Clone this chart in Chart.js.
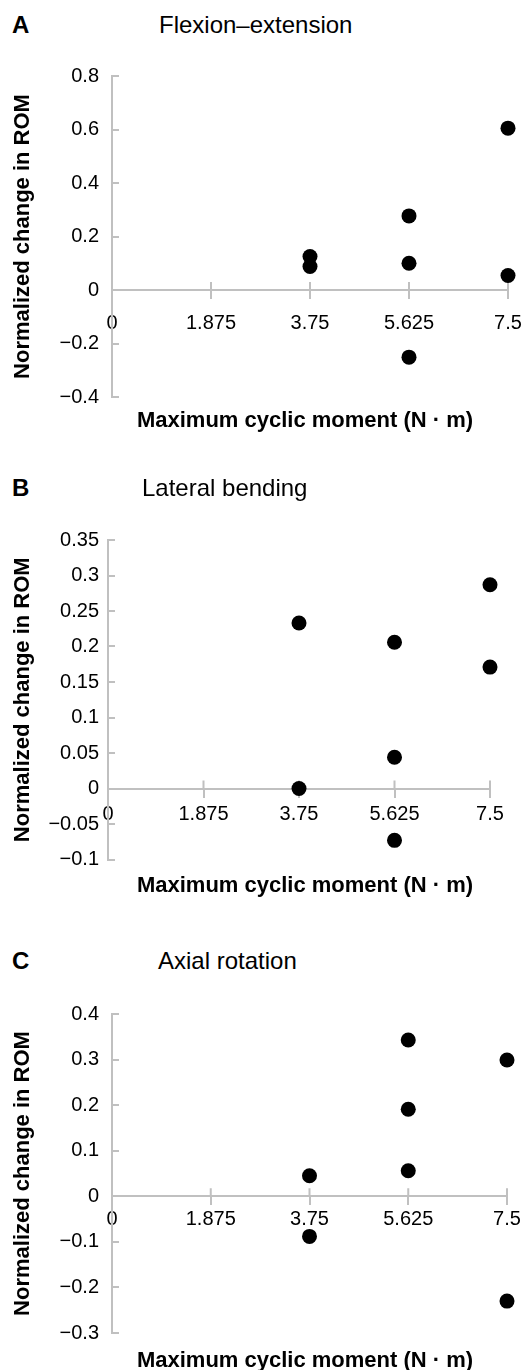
<!DOCTYPE html>
<html>
<head>
<meta charset="utf-8">
<script src="https://cdn.jsdelivr.net/npm/chart.js@4"></script>
<style>
  body { margin: 0; background: #fff; }
  #page { position: relative; width: 525px; height: 1370px; overflow: hidden; font-family: "Liberation Sans", Arial, sans-serif; color: #000; }
  .box { position: absolute; left: 0; width: 525px; }
  .letter { position: absolute; font-weight: bold; font-size: 24px; line-height: 28.8px; }
  .title { position: absolute; font-size: 24px; line-height: 28.8px; white-space: nowrap; }
  .xtitle { position: absolute; font-weight: bold; font-size: 22px; line-height: 26.4px; white-space: nowrap; transform: translateX(-50%); }
</style>
</head>
<body>
<div id="page">
  <div class="letter" style="left:12px; top:11px;">A</div>
  <div class="title" style="left:159px; top:11px;">Flexion–extension</div>
  <div class="box" style="top:0; height:420px;"><canvas id="chartA"></canvas></div>
  <div class="xtitle" style="left:305px; top:407px;">Maximum cyclic moment (N · m)</div>

  <div class="letter" style="left:12px; top:474px;">B</div>
  <div class="title" style="left:142px; top:474px;">Lateral bending</div>
  <div class="box" style="top:440px; height:440px;"><canvas id="chartB"></canvas></div>
  <div class="xtitle" style="left:305px; top:872px;">Maximum cyclic moment (N · m)</div>

  <div class="letter" style="left:12px; top:947px;">C</div>
  <div class="title" style="left:158px; top:947px;">Axial rotation</div>
  <div class="box" style="top:930px; height:420px;"><canvas id="chartC"></canvas></div>
  <div class="xtitle" style="left:305px; top:1347px;">Maximum cyclic moment (N · m)</div>
</div>
<script>
// x tick labels (maximum cyclic moment, N·m)
const xTicks = ["0", "1.875", "3.75", "5.625", "7.5"];

// A: flexion-extension
const xA = [3.75, 3.75, 5.625, 5.625, 5.625, 7.5, 7.5];
const yA = [0.125, 0.088, 0.277, 0.100, -0.251, 0.605, 0.054];
const yTicksA = ["−0.4", "−0.2", "0", "0.2", "0.4", "0.6", "0.8"];

// B: lateral bending
const xB = [3.75, 3.75, 5.625, 5.625, 5.625, 7.5, 7.5];
const yB = [0.233, 0.0, 0.206, 0.044, -0.073, 0.287, 0.171];
const yTicksB = ["−0.1", "−0.05", "0", "0.05", "0.1", "0.15", "0.2", "0.25", "0.3", "0.35"];

// C: axial rotation
const xC = [3.75, 3.75, 5.625, 5.625, 5.625, 7.5, 7.5];
const yC = [0.045, -0.088, 0.343, 0.191, 0.056, 0.299, -0.230];
const yTicksC = ["−0.3", "−0.2", "−0.1", "0", "0.1", "0.2", "0.3", "0.4"];

const axisGray = "#c0c0c0";
const fontFamily = "'Liberation Sans', Arial, sans-serif";

// draws the upper half of the x tick marks so they cross the zero line
const crossTicks = {
  id: "crossTicks",
  beforeDatasetsDraw(chart) {
    const xs = chart.scales.x;
    const y0 = chart.scales.y.getPixelForValue(0);
    const ctx = chart.ctx;
    ctx.save();
    ctx.strokeStyle = axisGray;
    ctx.lineWidth = 2;
    ctx.beginPath();
    xs.ticks.forEach((t, i) => {
      if (i === 0) return;
      const px = xs.getPixelForTick(i);
      ctx.moveTo(px, y0);
      ctx.lineTo(px, y0 - 8);
    });
    ctx.stroke();
    ctx.restore();
  }
};

function makeChart(id, xs, ys, yTicks, yMin, yMax, yStep, lay) {
  const points = xs.map((x, i) => ({ x: x, y: ys[i] }));
  new Chart(document.getElementById(id), {
    type: "scatter",
    data: {
      datasets: [{
        data: points,
        backgroundColor: "#000",
        borderColor: "#000",
        borderWidth: 0,
        pointRadius: 7.5,
        pointHoverRadius: 7.5,
        clip: false
      }]
    },
    options: {
      responsive: true,
      maintainAspectRatio: false,
      animation: false,
      events: [],
      layout: { padding: { top: lay.top, bottom: lay.bottom, left: 0, right: lay.right } },
      plugins: { legend: { display: false }, tooltip: { enabled: false } },
      scales: {
        x: {
          type: "linear",
          position: { y: 0 },
          min: 0,
          max: 7.5,
          afterBuildTicks: (scale) => { scale.ticks = xTicks.map(v => ({ value: parseFloat(v) })); },
          afterFit: (scale) => { scale.height = 0; scale.paddingLeft = 0; scale.paddingRight = 0; },
          border: { color: axisGray, width: 2 },
          grid: { drawOnChartArea: false, color: axisGray, lineWidth: 2, tickLength: 8 },
          ticks: {
            maxRotation: 0,
            autoSkip: false,
            padding: lay.xPad,
            color: "#000",
            font: { family: fontFamily, size: 20 },
            callback: (v, i) => xTicks[i]
          }
        },
        y: {
          type: "linear",
          position: "left",
          min: yMin,
          max: yMax,
          afterFit: (scale) => { scale.width = lay.left; scale.paddingTop = 0; scale.paddingBottom = 0; },
          border: { color: axisGray, width: 2 },
          grid: { drawOnChartArea: false, color: axisGray, lineWidth: 2, tickLength: -7 },
          ticks: {
            stepSize: yStep,
            autoSkip: false,
            padding: lay.yPad,
            color: "#000",
            font: { family: fontFamily, size: 20 },
            callback: (v, i) => yTicks[i]
          },
          title: {
            display: true,
            text: "Normalized change in ROM",
            color: "#000",
            padding: { top: 10, bottom: 0 },
            font: { family: fontFamily, size: 22, weight: "bold" }
          }
        }
      }
    },
    plugins: [crossTicks]
  });
}

makeChart("chartA", xA, yA, yTicksA, -0.4, 0.8, 0.2,
  { top: 76, bottom: 23, left: 112, right: 17, xPad: 13, yPad: 20 });
makeChart("chartB", xB, yB, yTicksB, -0.1, 0.35, 0.05,
  { top: 100, bottom: 20.5, left: 108, right: 35, xPad: 6, yPad: 16 });
makeChart("chartC", xC, yC, yTicksC, -0.3, 0.4, 0.1,
  { top: 84, bottom: 17, left: 112, right: 18, xPad: 3, yPad: 20 });
</script>
</body>
</html>
